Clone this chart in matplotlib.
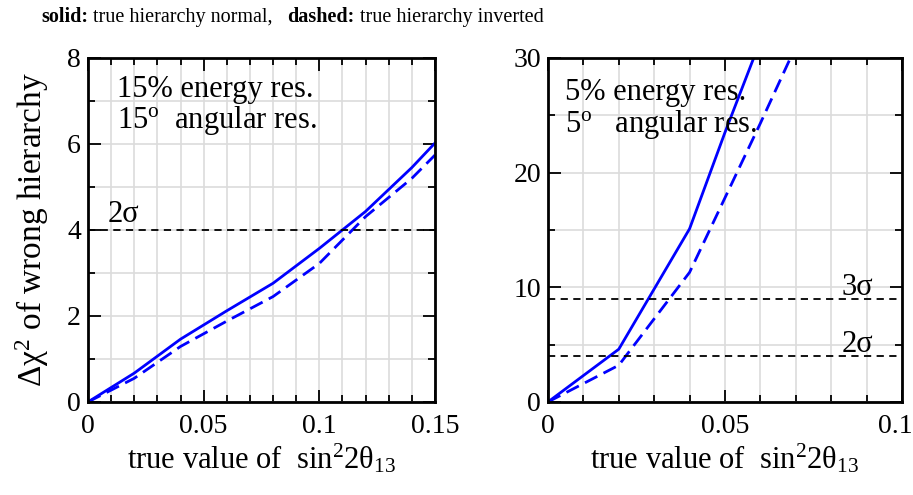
import numpy as np
import matplotlib.pyplot as plt
from matplotlib.ticker import MultipleLocator

plt.rcParams['font.family'] = ['Liberation Serif', 'DejaVu Serif']
plt.rcParams['mathtext.fontset'] = 'custom'
plt.rcParams['mathtext.rm'] = 'Liberation Serif'
plt.rcParams['mathtext.it'] = 'Liberation Serif:italic'
plt.rcParams['mathtext.bf'] = 'Liberation Serif:bold'

# left panel: 15% energy, 15 deg angular resolution
x_left = [0, 0.02, 0.04, 0.06, 0.08, 0.10, 0.12, 0.14, 0.15]
normal_left = [0, 0.67, 1.46, 2.12, 2.76, 3.57, 4.43, 5.45, 6.02]
inverted_left = [0, 0.55, 1.29, 1.88, 2.45, 3.22, 4.31, 5.2, 5.74]

# right panel: 5% energy, 5 deg angular resolution
x_right = [0, 0.02, 0.04, 0.05, 0.06, 0.07]
normal_right = [0, 4.6, 15.1, 23.5, 31.5, 40.0]
inverted_right = [0, 3.2, 11.3, 17.8, 24.3, 31.0]

sigma_levels = [4, 9]
sigma_names = ['2σ', '3σ']

blue = '#0000ff'
fs_tick = 20
fs_txt = 22

fig = plt.figure(figsize=(9.13, 4.95), dpi=100)
ax1 = fig.add_axes([0.0964, 0.188, 0.380, 0.695])
ax2 = fig.add_axes([0.6002, 0.188, 0.3877, 0.695])

def style(ax, xmax, ymax, xmaj, xmin, ymaj, ymin):
    ax.set_xlim(0, xmax)
    ax.set_ylim(0, ymax)
    ax.xaxis.set_major_locator(MultipleLocator(xmaj))
    ax.xaxis.set_minor_locator(MultipleLocator(xmin))
    ax.yaxis.set_major_locator(MultipleLocator(ymaj))
    ax.yaxis.set_minor_locator(MultipleLocator(ymin))
    ax.grid(True, which='both', color='#dcdcdc', lw=1.2, zorder=0)
    ax.set_axisbelow(True)
    ax.tick_params(which='both', direction='in', top=True, right=True,
                   labelsize=fs_tick, width=1.3)
    ax.tick_params(axis='x', pad=9)
    ax.tick_params(axis='y', pad=5)
    ax.tick_params(which='major', length=9)
    ax.tick_params(which='minor', length=5)
    for s in ax.spines.values():
        s.set_linewidth(2)
    ax.yaxis.set_major_formatter(lambda v, p: '%g' % round(v, 3))
    ax.set_xlabel('true value of  sin$^{2}$2θ$_{13}$', fontsize=fs_txt)
    ax.xaxis.set_label_coords(0.5, -0.115)
    ax.xaxis.label.set_va('top')

style(ax1, 0.15, 8, 0.05, 0.01, 2, 1)
style(ax2, 0.1, 30, 0.05, 0.01, 10, 5)

ax1.xaxis.set_major_formatter(lambda v, p: '%g' % round(v, 3))
# last label of the right panel sits a little left so it stays inside the figure
ax2.xaxis.set_major_formatter(lambda v, p: '%g  ' % round(v, 3) if v > 0.09 else '%g' % round(v, 3))

ax1.plot(x_left, normal_left, color=blue, lw=2)
ax1.plot(x_left, inverted_left, color=blue, lw=2, dashes=(5, 2.5))
ax2.plot(x_right, normal_right, color=blue, lw=2)
ax2.plot(x_right, inverted_right, color=blue, lw=2, dashes=(5, 2.5))

ax1.axhline(sigma_levels[0], color='black', lw=1.3, dashes=(4, 3))
ax1.text(0.0086, 4.19, sigma_names[0], fontsize=fs_txt, va='baseline')
for lev, name, yb in zip(sigma_levels, sigma_names, [4.36, 9.33]):
    ax2.axhline(lev, color='black', lw=1.3, dashes=(4, 3))
    ax2.text(0.083, yb, name, fontsize=fs_txt, va='baseline')

ax1.text(0.0125, 7.09, '15% energy res.', fontsize=fs_txt, va='baseline')
ax1.text(0.0125, 6.37, r'15$^{\mathrm{o}}$  angular res.', fontsize=fs_txt, va='baseline')
ax2.text(0.0048, 26.3, '5% energy res.', fontsize=fs_txt, va='baseline')
ax2.text(0.0048, 23.5, r'5$^{\mathrm{o}}$   angular res.', fontsize=fs_txt, va='baseline')

ax1.set_ylabel('Δχ$^{2}$ of wrong hierarchy', fontsize=24)
ax1.yaxis.set_label_coords(-0.108, 0.5)

# title built from bold and normal pieces
fs_title = 14.5
t1 = fig.text(0.045, 0.955, 'solid:', fontsize=fs_title, fontweight='bold', va='baseline')
t2 = fig.text(0, 0, ' true hierarchy normal,   ', fontsize=fs_title, va='baseline')
t3 = fig.text(0, 0, 'dashed:', fontsize=fs_title, fontweight='bold', va='baseline')
t4 = fig.text(0, 0, ' true hierarchy inverted', fontsize=fs_title, va='baseline')
fig.canvas.draw()
r = fig.canvas.get_renderer()
prev = t1
for t in [t2, t3, t4]:
    bb = prev.get_window_extent(r)
    t.set_position((bb.x1 / fig.bbox.width, 0.955))
    prev = t

fig.savefig('out.png', dpi=100)
